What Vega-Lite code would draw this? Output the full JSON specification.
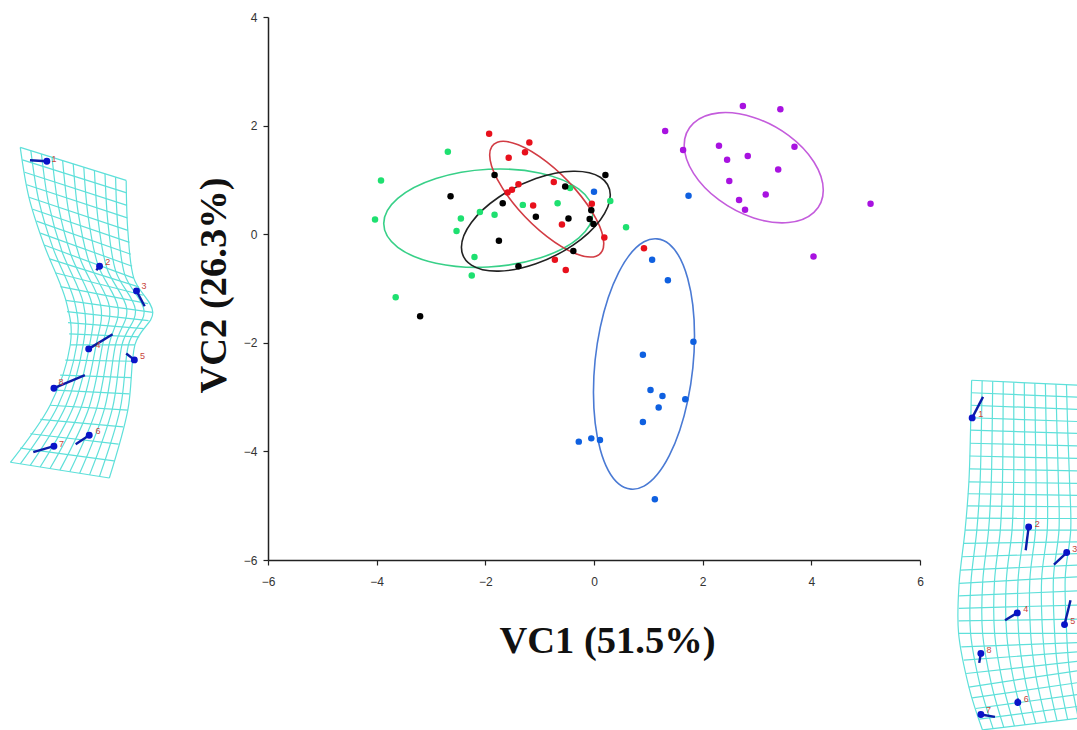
{"$schema":"https://vega.github.io/schema/vega-lite/v6.json","autosize":{"type":"none"},"padding":{"left":268,"top":17,"right":157,"bottom":170},"width":652,"height":543,"background":"white","config":{"view":{"stroke":null}},
"datasets":{
"pts":[
{"s":"red","x":-1.93,"y":1.85},{"s":"red","x":-1.19,"y":1.69},{"s":"red","x":-1.27,"y":1.51},{"s":"red","x":-1.57,"y":1.41},{"s":"red","x":-1.39,"y":0.92},{"s":"red","x":-1.51,"y":0.82},{"s":"red","x":-1.59,"y":0.77},{"s":"red","x":-0.74,"y":0.96},{"s":"red","x":-1.12,"y":0.53},{"s":"red","x":-0.04,"y":0.56},{"s":"red","x":-0.59,"y":0.18},{"s":"red","x":0.19,"y":-0.06},{"s":"red","x":-0.72,"y":-0.47},{"s":"red","x":-0.52,"y":-0.66},{"s":"red","x":0.92,"y":-0.26},
{"s":"green","x":-2.69,"y":1.52},{"s":"green","x":-3.92,"y":0.99},{"s":"green","x":-4.03,"y":0.27},{"s":"green","x":-2.45,"y":0.29},{"s":"green","x":-2.53,"y":0.06},{"s":"green","x":-2.1,"y":0.41},{"s":"green","x":-1.83,"y":0.36},{"s":"green","x":-1.31,"y":0.54},{"s":"green","x":-0.67,"y":0.57},{"s":"green","x":-0.44,"y":0.85},{"s":"green","x":0.3,"y":0.61},{"s":"green","x":0.59,"y":0.13},{"s":"green","x":-2.2,"y":-0.42},{"s":"green","x":-2.25,"y":-0.76},{"s":"green","x":-3.65,"y":-1.16},
{"s":"black","x":-1.83,"y":1.09},{"s":"black","x":-2.64,"y":0.7},{"s":"black","x":-1.68,"y":0.57},{"s":"black","x":-1.07,"y":0.32},{"s":"black","x":-1.75,"y":-0.12},{"s":"black","x":-1.39,"y":-0.59},{"s":"black","x":-0.38,"y":-0.31},{"s":"black","x":-0.47,"y":0.29},{"s":"black","x":-0.53,"y":0.88},{"s":"black","x":0.21,"y":1.09},{"s":"black","x":-0.05,"y":0.44},{"s":"black","x":-0.08,"y":0.28},{"s":"black","x":-0.01,"y":0.19},{"s":"black","x":-3.2,"y":-1.51},
{"s":"blue","x":0,"y":0.78},{"s":"blue","x":1.74,"y":0.71},{"s":"blue","x":1.07,"y":-0.47},{"s":"blue","x":1.36,"y":-0.85},{"s":"blue","x":1.83,"y":-1.98},{"s":"blue","x":0.9,"y":-2.22},{"s":"blue","x":1.04,"y":-2.87},{"s":"blue","x":1.26,"y":-2.98},{"s":"blue","x":1.68,"y":-3.04},{"s":"blue","x":1.19,"y":-3.19},{"s":"blue","x":0.9,"y":-3.46},{"s":"blue","x":-0.28,"y":-3.82},{"s":"blue","x":-0.05,"y":-3.76},{"s":"blue","x":0.11,"y":-3.79},{"s":"blue","x":1.12,"y":-4.88},
{"s":"purple","x":2.74,"y":2.36},{"s":"purple","x":3.43,"y":2.3},{"s":"purple","x":1.31,"y":1.9},{"s":"purple","x":1.64,"y":1.55},{"s":"purple","x":2.3,"y":1.63},{"s":"purple","x":3.69,"y":1.61},{"s":"purple","x":2.45,"y":1.37},{"s":"purple","x":2.83,"y":1.44},{"s":"purple","x":3.39,"y":1.19},{"s":"purple","x":2.49,"y":0.98},{"s":"purple","x":3.16,"y":0.73},{"s":"purple","x":2.67,"y":0.63},{"s":"purple","x":2.78,"y":0.45},{"s":"purple","x":5.09,"y":0.56},{"s":"purple","x":4.04,"y":-0.41}],
"ell":[
{"s":"green","o":0,"x":-0.02,"y":0.395},{"s":"green","o":1,"x":-0.278,"y":0.832},{"s":"green","o":2,"x":-0.982,"y":1.124},{"s":"green","o":3,"x":-1.945,"y":1.195},{"s":"green","o":4,"x":-2.908,"y":1.024},{"s":"green","o":5,"x":-3.612,"y":0.658},{"s":"green","o":6,"x":-3.87,"y":0.195},{"s":"green","o":7,"x":-3.612,"y":-0.242},{"s":"green","o":8,"x":-2.908,"y":-0.534},{"s":"green","o":9,"x":-1.945,"y":-0.605},{"s":"green","o":10,"x":-0.982,"y":-0.434},{"s":"green","o":11,"x":-0.278,"y":-0.068},
{"s":"red","o":0,"x":0.18,"y":-0.17},{"s":"red","o":1,"x":0.039,"y":0.282},{"s":"red","o":2,"x":-0.345,"y":0.83},{"s":"red","o":3,"x":-0.87,"y":1.33},{"s":"red","o":4,"x":-1.395,"y":1.646},{"s":"red","o":5,"x":-1.779,"y":1.694},{"s":"red","o":6,"x":-1.92,"y":1.46},{"s":"red","o":7,"x":-1.779,"y":1.008},{"s":"red","o":8,"x":-1.395,"y":0.46},{"s":"red","o":9,"x":-0.87,"y":-0.04},{"s":"red","o":10,"x":-0.345,"y":-0.356},{"s":"red","o":11,"x":0.039,"y":-0.404},
{"s":"black","o":0,"x":0.3,"y":0.72},{"s":"black","o":1,"x":0.116,"y":1.049},{"s":"black","o":2,"x":-0.385,"y":1.16},{"s":"black","o":3,"x":-1.07,"y":1.025},{"s":"black","o":4,"x":-1.755,"y":0.68},{"s":"black","o":5,"x":-2.256,"y":0.217},{"s":"black","o":6,"x":-2.44,"y":-0.24},{"s":"black","o":7,"x":-2.256,"y":-0.569},{"s":"black","o":8,"x":-1.755,"y":-0.68},{"s":"black","o":9,"x":-1.07,"y":-0.545},{"s":"black","o":10,"x":-0.385,"y":-0.2},{"s":"black","o":11,"x":0.116,"y":0.263},
{"s":"blue","o":0,"x":1.85,"y":-1.87},{"s":"blue","o":1,"x":1.725,"y":-0.815},{"s":"blue","o":2,"x":1.385,"y":-0.181},{"s":"blue","o":3,"x":0.92,"y":-0.14},{"s":"blue","o":4,"x":0.455,"y":-0.701},{"s":"blue","o":5,"x":0.115,"y":-1.715},{"s":"blue","o":6,"x":-0.01,"y":-2.91},{"s":"blue","o":7,"x":0.115,"y":-3.965},{"s":"blue","o":8,"x":0.455,"y":-4.599},{"s":"blue","o":9,"x":0.92,"y":-4.64},{"s":"blue","o":10,"x":1.385,"y":-4.079},{"s":"blue","o":11,"x":1.725,"y":-3.065},
{"s":"purple","o":0,"x":4.22,"y":0.81},{"s":"purple","o":1,"x":4.048,"y":1.329},{"s":"purple","o":2,"x":3.58,"y":1.819},{"s":"purple","o":3,"x":2.94,"y":2.151},{"s":"purple","o":4,"x":2.3,"y":2.235},{"s":"purple","o":5,"x":1.832,"y":2.047},{"s":"purple","o":6,"x":1.66,"y":1.64},{"s":"purple","o":7,"x":1.832,"y":1.121},{"s":"purple","o":8,"x":2.3,"y":0.631},{"s":"purple","o":9,"x":2.94,"y":0.299},{"s":"purple","o":10,"x":3.58,"y":0.215},{"s":"purple","o":11,"x":4.048,"y":0.403}],
"cols":[
{"g":"Lc0","o":0,"x":-10.56,"y":1.6},{"g":"Lc0","o":1,"x":-10.4,"y":0.68},{"g":"Lc0","o":2,"x":-10.12,"y":-0.2},{"g":"Lc0","o":3,"x":-9.72,"y":-1.22},{"g":"Lc0","o":4,"x":-9.64,"y":-2.04},{"g":"Lc0","o":5,"x":-10.01,"y":-3.15},{"g":"Lc0","o":6,"x":-10.74,"y":-4.2},
{"g":"Lc1","o":0,"x":-10.365,"y":1.539},{"g":"Lc1","o":1,"x":-10.218,"y":0.619},{"g":"Lc1","o":2,"x":-9.955,"y":-0.261},{"g":"Lc1","o":3,"x":-9.56,"y":-1.242},{"g":"Lc1","o":4,"x":-9.521,"y":-2.04},{"g":"Lc1","o":5,"x":-9.867,"y":-3.159},{"g":"Lc1","o":6,"x":-10.558,"y":-4.229},
{"g":"Lc2","o":0,"x":-10.17,"y":1.478},{"g":"Lc2","o":1,"x":-10.036,"y":0.558},{"g":"Lc2","o":2,"x":-9.79,"y":-0.322},{"g":"Lc2","o":3,"x":-9.4,"y":-1.264},{"g":"Lc2","o":4,"x":-9.402,"y":-2.04},{"g":"Lc2","o":5,"x":-9.724,"y":-3.168},{"g":"Lc2","o":6,"x":-10.376,"y":-4.258},
{"g":"Lc3","o":0,"x":-9.975,"y":1.417},{"g":"Lc3","o":1,"x":-9.854,"y":0.497},{"g":"Lc3","o":2,"x":-9.625,"y":-0.383},{"g":"Lc3","o":3,"x":-9.24,"y":-1.286},{"g":"Lc3","o":4,"x":-9.283,"y":-2.04},{"g":"Lc3","o":5,"x":-9.581,"y":-3.177},{"g":"Lc3","o":6,"x":-10.194,"y":-4.287},
{"g":"Lc4","o":0,"x":-9.78,"y":1.356},{"g":"Lc4","o":1,"x":-9.672,"y":0.436},{"g":"Lc4","o":2,"x":-9.46,"y":-0.444},{"g":"Lc4","o":3,"x":-9.08,"y":-1.308},{"g":"Lc4","o":4,"x":-9.164,"y":-2.04},{"g":"Lc4","o":5,"x":-9.438,"y":-3.186},{"g":"Lc4","o":6,"x":-10.012,"y":-4.316},
{"g":"Lc5","o":0,"x":-9.585,"y":1.295},{"g":"Lc5","o":1,"x":-9.49,"y":0.375},{"g":"Lc5","o":2,"x":-9.295,"y":-0.505},{"g":"Lc5","o":3,"x":-8.92,"y":-1.33},{"g":"Lc5","o":4,"x":-9.045,"y":-2.04},{"g":"Lc5","o":5,"x":-9.295,"y":-3.195},{"g":"Lc5","o":6,"x":-9.83,"y":-4.345},
{"g":"Lc6","o":0,"x":-9.39,"y":1.234},{"g":"Lc6","o":1,"x":-9.308,"y":0.314},{"g":"Lc6","o":2,"x":-9.13,"y":-0.566},{"g":"Lc6","o":3,"x":-8.76,"y":-1.352},{"g":"Lc6","o":4,"x":-8.926,"y":-2.04},{"g":"Lc6","o":5,"x":-9.152,"y":-3.204},{"g":"Lc6","o":6,"x":-9.648,"y":-4.374},
{"g":"Lc7","o":0,"x":-9.195,"y":1.173},{"g":"Lc7","o":1,"x":-9.126,"y":0.253},{"g":"Lc7","o":2,"x":-8.965,"y":-0.627},{"g":"Lc7","o":3,"x":-8.6,"y":-1.374},{"g":"Lc7","o":4,"x":-8.807,"y":-2.04},{"g":"Lc7","o":5,"x":-9.009,"y":-3.213},{"g":"Lc7","o":6,"x":-9.466,"y":-4.403},
{"g":"Lc8","o":0,"x":-9,"y":1.112},{"g":"Lc8","o":1,"x":-8.944,"y":0.192},{"g":"Lc8","o":2,"x":-8.8,"y":-0.688},{"g":"Lc8","o":3,"x":-8.44,"y":-1.396},{"g":"Lc8","o":4,"x":-8.688,"y":-2.04},{"g":"Lc8","o":5,"x":-8.866,"y":-3.222},{"g":"Lc8","o":6,"x":-9.284,"y":-4.432},
{"g":"Lc9","o":0,"x":-8.805,"y":1.051},{"g":"Lc9","o":1,"x":-8.762,"y":0.131},{"g":"Lc9","o":2,"x":-8.635,"y":-0.749},{"g":"Lc9","o":3,"x":-8.28,"y":-1.418},{"g":"Lc9","o":4,"x":-8.569,"y":-2.04},{"g":"Lc9","o":5,"x":-8.723,"y":-3.231},{"g":"Lc9","o":6,"x":-9.102,"y":-4.461},
{"g":"Lc10","o":0,"x":-8.61,"y":0.99},{"g":"Lc10","o":1,"x":-8.58,"y":0.07},{"g":"Lc10","o":2,"x":-8.47,"y":-0.81},{"g":"Lc10","o":3,"x":-8.12,"y":-1.44},{"g":"Lc10","o":4,"x":-8.45,"y":-2.04},{"g":"Lc10","o":5,"x":-8.58,"y":-3.24},{"g":"Lc10","o":6,"x":-8.92,"y":-4.49},
{"g":"Rc0","o":0,"x":6.95,"y":-2.69},{"g":"Rc0","o":1,"x":6.93,"y":-3.61},{"g":"Rc0","o":2,"x":6.9,"y":-4.56},{"g":"Rc0","o":3,"x":6.83,"y":-5.45},{"g":"Rc0","o":4,"x":6.72,"y":-6.43},{"g":"Rc0","o":5,"x":6.71,"y":-7.35},{"g":"Rc0","o":6,"x":6.9,"y":-8.34},{"g":"Rc0","o":7,"x":7.15,"y":-9.13},
{"g":"Rc1","o":0,"x":7.144,"y":-2.699},{"g":"Rc1","o":1,"x":7.129,"y":-3.616},{"g":"Rc1","o":2,"x":7.106,"y":-4.563},{"g":"Rc1","o":3,"x":7.046,"y":-5.45},{"g":"Rc1","o":4,"x":6.937,"y":-6.418},{"g":"Rc1","o":5,"x":6.931,"y":-7.35},{"g":"Rc1","o":6,"x":7.106,"y":-8.309},{"g":"Rc1","o":7,"x":7.346,"y":-9.106},
{"g":"Rc2","o":0,"x":7.338,"y":-2.708},{"g":"Rc2","o":1,"x":7.328,"y":-3.622},{"g":"Rc2","o":2,"x":7.312,"y":-4.566},{"g":"Rc2","o":3,"x":7.262,"y":-5.45},{"g":"Rc2","o":4,"x":7.154,"y":-6.406},{"g":"Rc2","o":5,"x":7.152,"y":-7.35},{"g":"Rc2","o":6,"x":7.312,"y":-8.278},{"g":"Rc2","o":7,"x":7.542,"y":-9.082},
{"g":"Rc3","o":0,"x":7.532,"y":-2.717},{"g":"Rc3","o":1,"x":7.527,"y":-3.628},{"g":"Rc3","o":2,"x":7.518,"y":-4.569},{"g":"Rc3","o":3,"x":7.478,"y":-5.45},{"g":"Rc3","o":4,"x":7.371,"y":-6.394},{"g":"Rc3","o":5,"x":7.373,"y":-7.35},{"g":"Rc3","o":6,"x":7.518,"y":-8.247},{"g":"Rc3","o":7,"x":7.738,"y":-9.058},
{"g":"Rc4","o":0,"x":7.726,"y":-2.726},{"g":"Rc4","o":1,"x":7.726,"y":-3.634},{"g":"Rc4","o":2,"x":7.724,"y":-4.572},{"g":"Rc4","o":3,"x":7.694,"y":-5.45},{"g":"Rc4","o":4,"x":7.588,"y":-6.382},{"g":"Rc4","o":5,"x":7.594,"y":-7.35},{"g":"Rc4","o":6,"x":7.724,"y":-8.216},{"g":"Rc4","o":7,"x":7.934,"y":-9.034},
{"g":"Rc5","o":0,"x":7.92,"y":-2.735},{"g":"Rc5","o":1,"x":7.925,"y":-3.64},{"g":"Rc5","o":2,"x":7.93,"y":-4.575},{"g":"Rc5","o":3,"x":7.91,"y":-5.45},{"g":"Rc5","o":4,"x":7.805,"y":-6.37},{"g":"Rc5","o":5,"x":7.815,"y":-7.35},{"g":"Rc5","o":6,"x":7.93,"y":-8.185},{"g":"Rc5","o":7,"x":8.13,"y":-9.01},
{"g":"Rc6","o":0,"x":8.114,"y":-2.744},{"g":"Rc6","o":1,"x":8.124,"y":-3.646},{"g":"Rc6","o":2,"x":8.136,"y":-4.578},{"g":"Rc6","o":3,"x":8.126,"y":-5.45},{"g":"Rc6","o":4,"x":8.022,"y":-6.358},{"g":"Rc6","o":5,"x":8.036,"y":-7.35},{"g":"Rc6","o":6,"x":8.136,"y":-8.154},{"g":"Rc6","o":7,"x":8.326,"y":-8.986},
{"g":"Rc7","o":0,"x":8.308,"y":-2.753},{"g":"Rc7","o":1,"x":8.323,"y":-3.652},{"g":"Rc7","o":2,"x":8.342,"y":-4.581},{"g":"Rc7","o":3,"x":8.342,"y":-5.45},{"g":"Rc7","o":4,"x":8.239,"y":-6.346},{"g":"Rc7","o":5,"x":8.257,"y":-7.35},{"g":"Rc7","o":6,"x":8.342,"y":-8.123},{"g":"Rc7","o":7,"x":8.522,"y":-8.962},
{"g":"Rc8","o":0,"x":8.502,"y":-2.762},{"g":"Rc8","o":1,"x":8.522,"y":-3.658},{"g":"Rc8","o":2,"x":8.548,"y":-4.584},{"g":"Rc8","o":3,"x":8.558,"y":-5.45},{"g":"Rc8","o":4,"x":8.456,"y":-6.334},{"g":"Rc8","o":5,"x":8.478,"y":-7.35},{"g":"Rc8","o":6,"x":8.548,"y":-8.092},{"g":"Rc8","o":7,"x":8.718,"y":-8.938},
{"g":"Rc9","o":0,"x":8.696,"y":-2.771},{"g":"Rc9","o":1,"x":8.721,"y":-3.664},{"g":"Rc9","o":2,"x":8.754,"y":-4.587},{"g":"Rc9","o":3,"x":8.774,"y":-5.45},{"g":"Rc9","o":4,"x":8.673,"y":-6.322},{"g":"Rc9","o":5,"x":8.699,"y":-7.35},{"g":"Rc9","o":6,"x":8.754,"y":-8.061},{"g":"Rc9","o":7,"x":8.914,"y":-8.914}],
"rows":[
{"g":"Lr0","o":0,"x":-10.56,"y":1.6},{"g":"Lr0","o":1,"x":-8.61,"y":0.99},{"g":"Lr1","o":0,"x":-10.52,"y":1.37},{"g":"Lr1","o":1,"x":-8.6,"y":0.76},{"g":"Lr2","o":0,"x":-10.48,"y":1.14},{"g":"Lr2","o":1,"x":-8.595,"y":0.53},{"g":"Lr3","o":0,"x":-10.44,"y":0.91},{"g":"Lr3","o":1,"x":-8.59,"y":0.3},{"g":"Lr4","o":0,"x":-10.4,"y":0.68},{"g":"Lr4","o":1,"x":-8.58,"y":0.07},{"g":"Lr5","o":0,"x":-10.33,"y":0.46},{"g":"Lr5","o":1,"x":-8.55,"y":-0.15},{"g":"Lr6","o":0,"x":-10.26,"y":0.24},{"g":"Lr6","o":1,"x":-8.525,"y":-0.37},{"g":"Lr7","o":0,"x":-10.19,"y":0.02},{"g":"Lr7","o":1,"x":-8.5,"y":-0.59},{"g":"Lr8","o":0,"x":-10.12,"y":-0.2},{"g":"Lr8","o":1,"x":-8.47,"y":-0.81},{"g":"Lr9","o":0,"x":-10.02,"y":-0.455},{"g":"Lr9","o":1,"x":-8.38,"y":-0.97},{"g":"Lr10","o":0,"x":-9.92,"y":-0.71},{"g":"Lr10","o":1,"x":-8.295,"y":-1.125},{"g":"Lr11","o":0,"x":-9.82,"y":-0.965},{"g":"Lr11","o":1,"x":-8.21,"y":-1.28},{"g":"Lr12","o":0,"x":-9.72,"y":-1.22},{"g":"Lr12","o":1,"x":-8.12,"y":-1.44},{"g":"Lr13","o":0,"x":-9.7,"y":-1.425},{"g":"Lr13","o":1,"x":-8.2,"y":-1.59},{"g":"Lr14","o":0,"x":-9.68,"y":-1.63},{"g":"Lr14","o":1,"x":-8.285,"y":-1.74},{"g":"Lr15","o":0,"x":-9.66,"y":-1.835},{"g":"Lr15","o":1,"x":-8.37,"y":-1.89},{"g":"Lr16","o":0,"x":-9.64,"y":-2.04},{"g":"Lr16","o":1,"x":-8.45,"y":-2.04},{"g":"Lr17","o":0,"x":-9.73,"y":-2.32},{"g":"Lr17","o":1,"x":-8.48,"y":-2.34},{"g":"Lr18","o":0,"x":-9.825,"y":-2.595},{"g":"Lr18","o":1,"x":-8.515,"y":-2.64},{"g":"Lr19","o":0,"x":-9.92,"y":-2.87},{"g":"Lr19","o":1,"x":-8.55,"y":-2.94},{"g":"Lr20","o":0,"x":-10.01,"y":-3.15},{"g":"Lr20","o":1,"x":-8.58,"y":-3.24},{"g":"Lr21","o":0,"x":-10.19,"y":-3.41},{"g":"Lr21","o":1,"x":-8.665,"y":-3.55},{"g":"Lr22","o":0,"x":-10.375,"y":-3.675},{"g":"Lr22","o":1,"x":-8.75,"y":-3.865},{"g":"Lr23","o":0,"x":-10.56,"y":-3.94},{"g":"Lr23","o":1,"x":-8.835,"y":-4.175},{"g":"Lr24","o":0,"x":-10.74,"y":-4.2},{"g":"Lr24","o":1,"x":-8.92,"y":-4.49},
{"g":"Rr0","o":0,"x":6.95,"y":-2.69},{"g":"Rr0","o":1,"x":8.89,"y":-2.78},{"g":"Rr1","o":0,"x":6.945,"y":-2.92},{"g":"Rr1","o":1,"x":8.9,"y":-3},{"g":"Rr2","o":0,"x":6.94,"y":-3.15},{"g":"Rr2","o":1,"x":8.905,"y":-3.225},{"g":"Rr3","o":0,"x":6.935,"y":-3.38},{"g":"Rr3","o":1,"x":8.91,"y":-3.45},{"g":"Rr4","o":0,"x":6.93,"y":-3.61},{"g":"Rr4","o":1,"x":8.92,"y":-3.67},{"g":"Rr5","o":0,"x":6.92,"y":-3.85},{"g":"Rr5","o":1,"x":8.93,"y":-3.9},{"g":"Rr6","o":0,"x":6.915,"y":-4.085},{"g":"Rr6","o":1,"x":8.94,"y":-4.13},{"g":"Rr7","o":0,"x":6.91,"y":-4.32},{"g":"Rr7","o":1,"x":8.95,"y":-4.36},{"g":"Rr8","o":0,"x":6.9,"y":-4.56},{"g":"Rr8","o":1,"x":8.96,"y":-4.59},{"g":"Rr9","o":0,"x":6.88,"y":-4.78},{"g":"Rr9","o":1,"x":8.97,"y":-4.81},{"g":"Rr10","o":0,"x":6.865,"y":-5.005},{"g":"Rr10","o":1,"x":8.975,"y":-5.02},{"g":"Rr11","o":0,"x":6.85,"y":-5.23},{"g":"Rr11","o":1,"x":8.98,"y":-5.235},{"g":"Rr12","o":0,"x":6.83,"y":-5.45},{"g":"Rr12","o":1,"x":8.99,"y":-5.45},{"g":"Rr13","o":0,"x":6.8,"y":-5.695},{"g":"Rr13","o":1,"x":8.97,"y":-5.665},{"g":"Rr14","o":0,"x":6.775,"y":-5.94},{"g":"Rr14","o":1,"x":8.94,"y":-5.88},{"g":"Rr15","o":0,"x":6.745,"y":-6.185},{"g":"Rr15","o":1,"x":8.915,"y":-6.095},{"g":"Rr16","o":0,"x":6.72,"y":-6.43},{"g":"Rr16","o":1,"x":8.89,"y":-6.31},{"g":"Rr17","o":0,"x":6.72,"y":-6.66},{"g":"Rr17","o":1,"x":8.9,"y":-6.57},{"g":"Rr18","o":0,"x":6.715,"y":-6.89},{"g":"Rr18","o":1,"x":8.905,"y":-6.83},{"g":"Rr19","o":0,"x":6.71,"y":-7.12},{"g":"Rr19","o":1,"x":8.91,"y":-7.09},{"g":"Rr20","o":0,"x":6.71,"y":-7.35},{"g":"Rr20","o":1,"x":8.92,"y":-7.35},{"g":"Rr21","o":0,"x":6.76,"y":-7.6},{"g":"Rr21","o":1,"x":8.93,"y":-7.52},{"g":"Rr22","o":0,"x":6.805,"y":-7.845},{"g":"Rr22","o":1,"x":8.94,"y":-7.69},{"g":"Rr23","o":0,"x":6.85,"y":-8.09},{"g":"Rr23","o":1,"x":8.95,"y":-7.86},{"g":"Rr24","o":0,"x":6.9,"y":-8.34},{"g":"Rr24","o":1,"x":8.96,"y":-8.03},{"g":"Rr25","o":0,"x":6.96,"y":-8.54},{"g":"Rr25","o":1,"x":8.995,"y":-8.245},{"g":"Rr26","o":0,"x":7.025,"y":-8.735},{"g":"Rr26","o":1,"x":9.035,"y":-8.46},{"g":"Rr27","o":0,"x":7.09,"y":-8.93},{"g":"Rr27","o":1,"x":9.07,"y":-8.675},{"g":"Rr28","o":0,"x":7.15,"y":-9.13},{"g":"Rr28","o":1,"x":9.11,"y":-8.89}],
"vec":[
{"g":"L1","o":0,"x":-10.07,"y":1.344},{"g":"L1","o":1,"x":-10.38,"y":1.363},{"g":"L2","o":0,"x":-9.1,"y":-0.589},{"g":"L2","o":1,"x":-9.16,"y":-0.663},{"g":"L3","o":0,"x":-8.42,"y":-1.044},{"g":"L3","o":1,"x":-8.27,"y":-1.326},{"g":"L4","o":0,"x":-9.3,"y":-2.112},{"g":"L4","o":1,"x":-8.86,"y":-1.842},{"g":"L5","o":0,"x":-8.46,"y":-2.315},{"g":"L5","o":1,"x":-8.61,"y":-2.197},{"g":"L8","o":0,"x":-9.94,"y":-2.836},{"g":"L8","o":1,"x":-9.37,"y":-2.597},{"g":"L6","o":0,"x":-9.29,"y":-3.702},{"g":"L6","o":1,"x":-9.54,"y":-3.867},{"g":"L7","o":0,"x":-9.94,"y":-3.904},{"g":"L7","o":1,"x":-10.32,"y":-4.015},
{"g":"R1","o":0,"x":6.96,"y":-3.383},{"g":"R1","o":1,"x":7.16,"y":-2.996},{"g":"R2","o":0,"x":8,"y":-5.39},{"g":"R2","o":1,"x":7.945,"y":-5.82},{"g":"R3","o":0,"x":8.7,"y":-5.862},{"g":"R3","o":1,"x":8.465,"y":-6.083},{"g":"R4","o":0,"x":7.79,"y":-6.974},{"g":"R4","o":1,"x":7.565,"y":-7.11},{"g":"R5","o":0,"x":8.66,"y":-7.19},{"g":"R5","o":1,"x":8.77,"y":-6.74},{"g":"R8","o":0,"x":7.12,"y":-7.72},{"g":"R8","o":1,"x":7.09,"y":-7.895},{"g":"R6","o":0,"x":7.8,"y":-8.625},{"g":"R6","o":1,"x":7.8,"y":-8.55},{"g":"R7","o":0,"x":7.12,"y":-8.846},{"g":"R7","o":1,"x":7.38,"y":-8.89}],
"lm":[
{"n":"1","x":-10.07,"y":1.344,"lx":-9.94,"ly":1.394},{"n":"2","x":-9.1,"y":-0.589,"lx":-8.95,"ly":-0.521},{"n":"3","x":-8.42,"y":-1.044,"lx":-8.28,"ly":-0.958},{"n":"4","x":-9.3,"y":-2.112,"lx":-9.13,"ly":-2.044},{"n":"5","x":-8.46,"y":-2.315,"lx":-8.31,"ly":-2.247},{"n":"8","x":-9.94,"y":-2.836,"lx":-9.81,"ly":-2.72},{"n":"6","x":-9.29,"y":-3.702,"lx":-9.13,"ly":-3.628},{"n":"7","x":-9.94,"y":-3.904,"lx":-9.8,"ly":-3.855},
{"n":"1","x":6.96,"y":-3.383,"lx":7.12,"ly":-3.32},{"n":"2","x":8,"y":-5.39,"lx":8.16,"ly":-5.33},{"n":"3","x":8.7,"y":-5.862,"lx":8.85,"ly":-5.79},{"n":"4","x":7.79,"y":-6.974,"lx":7.945,"ly":-6.9},{"n":"5","x":8.66,"y":-7.19,"lx":8.81,"ly":-7.12},{"n":"8","x":7.12,"y":-7.72,"lx":7.27,"ly":-7.65},{"n":"6","x":7.8,"y":-8.625,"lx":7.956,"ly":-8.564},{"n":"7","x":7.12,"y":-8.846,"lx":7.26,"ly":-8.77}]
},
"encoding":{
"x":{"field":"x","type":"quantitative","scale":{"domain":[-6,6],"nice":false,"zero":false},"axis":{"values":[-6,-4,-2,0,2,4,6],"grid":false,"title":"VC1 (51.5%)","titleFont":"Liberation Serif","titleFontSize":38.5,"titleFontWeight":"bold","titleColor":"#111","titleX":339,"titleY":92,"titleBaseline":"alphabetic","labelFont":"Liberation Sans","labelFontSize":12,"labelColor":"#333","labelPadding":11,"domainColor":"#222","domainWidth":1.5,"tickColor":"#222","tickSize":5,"tickWidth":1.2,"labelFlush":false,"labelOverlap":false}},
"y":{"field":"y","type":"quantitative","scale":{"domain":[-6,4],"nice":false,"zero":false},"axis":{"values":[-6,-4,-2,0,2,4],"grid":false,"title":"VC2 (26.3%)","titleFont":"Liberation Serif","titleFontSize":38.5,"titleFontWeight":"bold","titleColor":"#111","titleX":-43,"titleY":268,"titleBaseline":"alphabetic","labelFont":"Liberation Sans","labelFontSize":12,"labelColor":"#333","labelPadding":6,"domainColor":"#222","domainWidth":1.5,"tickColor":"#222","tickSize":5,"tickWidth":1.2,"labelOverlap":false}}
},
"layer":[
{"data":{"name":"cols"},"mark":{"type":"line","interpolate":"cardinal","stroke":"#5fe0da","strokeWidth":1.2},"encoding":{"detail":{"field":"g"},"order":{"field":"o"}}},
{"data":{"name":"rows"},"mark":{"type":"line","stroke":"#5fe0da","strokeWidth":1.2},"encoding":{"detail":{"field":"g"},"order":{"field":"o"}}},
{"data":{"name":"vec"},"mark":{"type":"line","stroke":"#0a1ca8","strokeWidth":2.4},"encoding":{"detail":{"field":"g"},"order":{"field":"o"}}},
{"data":{"name":"lm"},"mark":{"type":"point","filled":true,"size":48,"color":"#0a14c8","opacity":1}},
{"data":{"name":"lm"},"mark":{"type":"text","fontSize":9,"color":"#c8443a","font":"Liberation Sans"},"encoding":{"x":{"field":"lx","type":"quantitative"},"y":{"field":"ly","type":"quantitative"},"text":{"field":"n"}}},
{"data":{"name":"ell"},"mark":{"type":"line","interpolate":"cardinal-closed","strokeWidth":1.6},"encoding":{"color":{"field":"s","type":"nominal","legend":null,"scale":{"domain":["green","red","black","blue","purple"],"range":["#38d088","#d23c44","#222222","#4a7ad4","#c45cdc"]}},"order":{"field":"o"}}},
{"data":{"name":"pts"},"mark":{"type":"point","filled":true,"size":42,"opacity":1},"encoding":{"fill":{"field":"s","type":"nominal","legend":null,"scale":{"domain":["green","red","black","blue","purple"],"range":["#1ee070","#e8101c","#000000","#0f60e0","#a812e0"]}}}}
],
"resolve":{"scale":{"color":"independent"}}
}
